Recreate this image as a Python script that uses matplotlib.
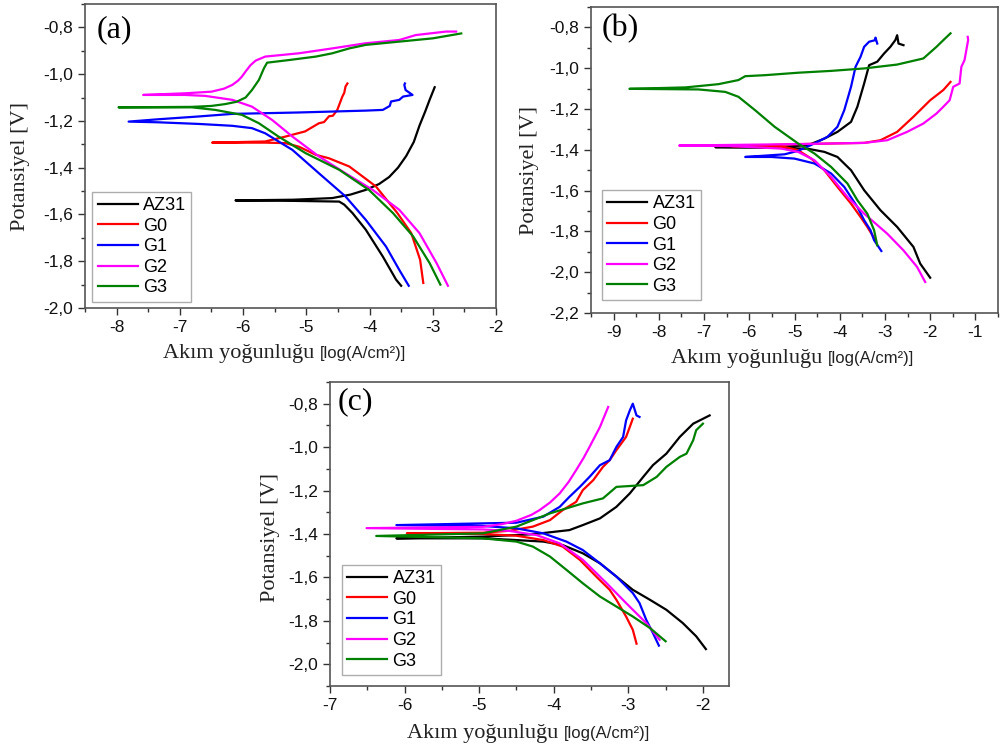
import matplotlib
matplotlib.use('Agg')
import matplotlib.pyplot as plt
from matplotlib.ticker import MultipleLocator, FuncFormatter, AutoMinorLocator

# Veriler: (log i, E) - katodik uçtan başlayıp Ecorr üzerinden anodik uca
series_names = ['AZ31', 'G0', 'G1', 'G2', 'G3']
series_colors = ['#000000', '#ff0000', '#0000ff', '#ff00ff', '#008000']

# Panel (a)
a_az31 = [(-3.50, -1.905), (-3.58, -1.879), (-3.79, -1.78), (-4.06, -1.665), (-4.27, -1.594),
          (-4.40, -1.558), (-4.48, -1.545), (-5.2, -1.542), (-6.12, -1.54), (-5.2, -1.537),
          (-4.59, -1.53), (-4.30, -1.515), (-4.06, -1.495), (-3.85, -1.47), (-3.69, -1.44),
          (-3.55, -1.40), (-3.42, -1.35), (-3.30, -1.29), (-3.21, -1.22), (-3.12, -1.16),
          (-3.05, -1.11), (-2.97, -1.056)]
a_g0 = [(-3.15, -1.893), (-3.20, -1.794), (-3.34, -1.68), (-3.56, -1.594), (-3.90, -1.48),
        (-4.32, -1.395), (-4.64, -1.36), (-4.85, -1.345), (-5.12, -1.31), (-5.33, -1.295),
        (-5.65, -1.293), (-6.49, -1.293), (-5.65, -1.288), (-5.33, -1.267), (-5.02, -1.245),
        (-4.80, -1.21), (-4.72, -1.205), (-4.64, -1.18), (-4.58, -1.178), (-4.51, -1.153),
        (-4.43, -1.096), (-4.40, -1.08), (-4.38, -1.053), (-4.35, -1.04)]
a_g1 = [(-3.38, -1.905), (-3.53, -1.837), (-3.74, -1.737), (-4.06, -1.623), (-4.38, -1.523),
        (-4.80, -1.424), (-5.22, -1.324), (-5.65, -1.253), (-5.86, -1.231), (-6.17, -1.221),
        (-6.70, -1.213), (-7.34, -1.206), (-7.81, -1.203), (-7.34, -1.193), (-6.70, -1.181),
        (-6.17, -1.170), (-5.12, -1.164), (-4.06, -1.156), (-3.79, -1.153), (-3.68, -1.136),
        (-3.66, -1.117), (-3.53, -1.11), (-3.47, -1.096), (-3.32, -1.089), (-3.43, -1.068),
        (-3.45, -1.046), (-3.44, -1.04)]
a_g2 = [(-2.76, -1.905), (-2.94, -1.808), (-3.21, -1.68), (-3.53, -1.58), (-3.95, -1.495),
        (-4.38, -1.424), (-4.80, -1.352), (-5.22, -1.267), (-5.54, -1.196), (-5.86, -1.139),
        (-6.17, -1.11), (-6.60, -1.093), (-6.92, -1.089), (-7.58, -1.089), (-6.92, -1.082),
        (-6.50, -1.075), (-6.30, -1.062), (-6.17, -1.046), (-6.08, -1.028), (-6.02, -1.011),
        (-5.95, -0.985), (-5.88, -0.961), (-5.80, -0.942), (-5.65, -0.925), (-5.12, -0.911),
        (-4.59, -0.890), (-4.06, -0.868), (-3.53, -0.854), (-3.27, -0.833), (-2.79, -0.818),
        (-2.63, -0.818)]
a_g3 = [(-2.88, -1.900), (-3.05, -1.808), (-3.31, -1.694), (-3.63, -1.594), (-4.01, -1.495),
        (-4.48, -1.409), (-5.01, -1.338), (-5.44, -1.267), (-5.75, -1.210), (-6.02, -1.174),
        (-6.44, -1.153), (-6.81, -1.142), (-7.97, -1.142), (-6.81, -1.140), (-6.50, -1.136),
        (-6.28, -1.128), (-6.10, -1.118), (-5.96, -1.10), (-5.86, -1.068), (-5.75, -1.025),
        (-5.67, -0.975), (-5.62, -0.951), (-5.28, -0.940), (-4.85, -0.925), (-4.59, -0.911),
        (-4.32, -0.890), (-4.06, -0.875), (-3.53, -0.861), (-3.00, -0.847), (-2.55, -0.826)]

# Panel (b)
b_az31 = [(-2.00, -2.027), (-2.22, -1.958), (-2.37, -1.876), (-2.73, -1.778), (-3.10, -1.696),
          (-3.46, -1.598), (-3.75, -1.50), (-4.05, -1.435), (-4.34, -1.41), (-4.70, -1.395),
          (-5.29, -1.39), (-6.75, -1.387), (-5.29, -1.386), (-4.70, -1.377), (-4.34, -1.345),
          (-4.05, -1.312), (-3.75, -1.263), (-3.61, -1.189), (-3.46, -1.075), (-3.35, -0.985),
          (-3.17, -0.968), (-3.02, -0.928), (-2.88, -0.895), (-2.77, -0.862), (-2.73, -0.838),
          (-2.70, -0.879), (-2.59, -0.887)]
b_g0 = [(-3.21, -1.843), (-3.39, -1.778), (-3.54, -1.729), (-3.75, -1.664), (-4.05, -1.582),
        (-4.34, -1.50), (-4.63, -1.443), (-4.92, -1.402), (-5.22, -1.386), (-6.38, -1.383),
        (-4.92, -1.372), (-3.46, -1.366), (-3.10, -1.353), (-2.73, -1.312), (-2.37, -1.238),
        (-2.00, -1.157), (-1.71, -1.107), (-1.55, -1.067)]
b_g1 = [(-3.08, -1.896), (-3.24, -1.843), (-3.32, -1.794), (-3.46, -1.745), (-3.61, -1.68),
        (-3.90, -1.582), (-4.19, -1.516), (-4.56, -1.467), (-5.00, -1.443), (-5.51, -1.435),
        (-6.09, -1.435), (-5.22, -1.422), (-4.92, -1.405), (-4.56, -1.369), (-4.27, -1.336),
        (-4.05, -1.287), (-3.90, -1.206), (-3.75, -1.091), (-3.65, -0.993), (-3.54, -0.944),
        (-3.46, -0.895), (-3.35, -0.870), (-3.21, -0.862), (-3.21, -0.850), (-3.17, -0.879)]
b_g2 = [(-2.11, -2.048), (-2.29, -1.974), (-2.59, -1.893), (-2.95, -1.811), (-3.46, -1.713),
        (-3.83, -1.631), (-4.19, -1.533), (-4.56, -1.451), (-4.92, -1.41), (-5.29, -1.394),
        (-6.38, -1.382), (-7.55, -1.379), (-4.92, -1.372), (-3.46, -1.366), (-2.95, -1.353),
        (-2.51, -1.312), (-2.15, -1.271), (-1.86, -1.222), (-1.71, -1.189), (-1.57, -1.157),
        (-1.49, -1.091), (-1.35, -1.075), (-1.31, -0.993), (-1.24, -0.96), (-1.20, -0.911),
        (-1.16, -0.862), (-1.17, -0.846)]
b_g3 = [(-3.17, -1.868), (-3.24, -1.794), (-3.39, -1.713), (-3.61, -1.647), (-3.83, -1.565),
        (-4.19, -1.484), (-4.56, -1.418), (-4.92, -1.369), (-5.44, -1.287), (-5.87, -1.206),
        (-6.24, -1.14), (-6.53, -1.116), (-7.12, -1.104), (-8.65, -1.101), (-7.41, -1.094),
        (-6.68, -1.078), (-6.24, -1.058), (-6.09, -1.039), (-5.65, -1.034), (-4.92, -1.022),
        (-4.19, -1.013), (-3.46, -1.001), (-2.73, -0.982), (-2.15, -0.952), (-1.86, -0.895),
        (-1.67, -0.854), (-1.55, -0.829)]

# Panel (c)
c_az31 = [(-1.96, -1.930), (-2.09, -1.871), (-2.27, -1.810), (-2.49, -1.749), (-2.71, -1.703),
          (-2.94, -1.657), (-3.16, -1.596), (-3.38, -1.535), (-3.61, -1.489), (-3.88, -1.451),
          (-4.14, -1.435), (-4.50, -1.428), (-4.95, -1.420), (-6.11, -1.420), (-4.95, -1.412),
          (-4.28, -1.401), (-3.79, -1.382), (-3.61, -1.359), (-3.38, -1.328), (-3.16, -1.275),
          (-2.98, -1.213), (-2.80, -1.137), (-2.67, -1.083), (-2.49, -1.030), (-2.31, -0.953),
          (-2.13, -0.892), (-1.91, -0.854)]
c_g0 = [(-2.89, -1.905), (-2.94, -1.841), (-3.03, -1.780), (-3.16, -1.703), (-3.25, -1.657),
        (-3.43, -1.596), (-3.65, -1.519), (-3.88, -1.458), (-4.14, -1.428), (-4.50, -1.408),
        (-4.95, -1.400), (-5.97, -1.397), (-4.95, -1.394), (-4.59, -1.385), (-4.28, -1.366),
        (-4.05, -1.336), (-3.88, -1.290), (-3.70, -1.252), (-3.61, -1.198), (-3.47, -1.152),
        (-3.34, -1.091), (-3.25, -1.060), (-3.16, -1.014), (-3.03, -0.953), (-2.98, -0.907),
        (-2.94, -0.869)]
c_g1 = [(-2.59, -1.914), (-2.67, -1.856), (-2.76, -1.795), (-2.85, -1.718), (-2.94, -1.672),
        (-3.16, -1.596), (-3.38, -1.535), (-3.61, -1.474), (-3.83, -1.435), (-4.14, -1.397),
        (-4.50, -1.374), (-4.95, -1.363), (-6.11, -1.359), (-4.50, -1.348), (-4.14, -1.320),
        (-3.92, -1.275), (-3.79, -1.229), (-3.65, -1.183), (-3.52, -1.137), (-3.38, -1.083),
        (-3.25, -1.060), (-3.16, -0.999), (-3.07, -0.953), (-3.03, -0.877), (-2.98, -0.831),
        (-2.94, -0.800), (-2.89, -0.854), (-2.85, -0.861)]
c_g2 = [(-2.58, -1.887), (-2.76, -1.810), (-3.03, -1.718), (-3.29, -1.627), (-3.61, -1.519),
        (-3.92, -1.443), (-4.23, -1.405), (-4.59, -1.386), (-4.95, -1.379), (-6.51, -1.373),
        (-4.95, -1.367), (-4.70, -1.355), (-4.50, -1.339), (-4.30, -1.312), (-4.19, -1.290),
        (-4.05, -1.255), (-3.92, -1.213), (-3.80, -1.16), (-3.70, -1.106), (-3.60, -1.05),
        (-3.52, -0.999), (-3.38, -0.907), (-3.27, -0.815)]
c_g3 = [(-2.50, -1.894), (-2.71, -1.833), (-2.94, -1.780), (-3.16, -1.734), (-3.38, -1.688),
        (-3.61, -1.627), (-3.83, -1.565), (-4.05, -1.504), (-4.28, -1.458), (-4.50, -1.435),
        (-4.95, -1.420), (-6.38, -1.409), (-4.95, -1.397), (-4.50, -1.366), (-4.05, -1.305),
        (-3.61, -1.259), (-3.34, -1.236), (-3.16, -1.183), (-2.80, -1.175), (-2.62, -1.137),
        (-2.49, -1.091), (-2.31, -1.045), (-2.22, -1.030), (-2.13, -0.968), (-2.09, -0.922),
        (-2.00, -0.892)]

panels = [
    ('(a)', [a_az31, a_g0, a_g1, a_g2, a_g3], [0.085, 0.5888, 0.411, 0.4059], (-8.5, -2), (-2.0, -0.7),
     (0.029, 0.914), (0.018, 0.02), 0.572, -0.166, (-0.158, 0.464)),
    ('(b)', [b_az31, b_g0, b_g1, b_g2, b_g3], [0.591, 0.5821, 0.407, 0.4085], (-9.5, -0.5), (-2.2, -0.7),
     (0.027, 0.931), (0.027, 0.042), 0.582, -0.162, (-0.15, 0.467)),
    ('(c)', [c_az31, c_g0, c_g1, c_g2, c_g3], [0.330, 0.0841, 0.399, 0.4059], (-7, -1.65), (-2.1, -0.7),
     (0.018, 0.934), (0.030, 0.036), 0.586, -0.171, (-0.15, 0.49)),
]

fig = plt.figure(figsize=(10, 7.49), dpi=100)
comma = FuncFormatter(lambda v, p: f'{v:.1f}'.replace('.', ','))
intfmt = FuncFormatter(lambda v, p: f'{v:.0f}')

for tag, curves, rect, xl, yl, tagpos, legpos, split, xly, ylpos in panels:
    ax = fig.add_axes(rect)
    for pts, name, col in zip(curves, series_names, series_colors):
        xs = [p[0] for p in pts]
        ys = [p[1] for p in pts]
        ax.plot(xs, ys, color=col, lw=1.6, label=name)
    ax.set_xlim(*xl)
    ax.set_ylim(*yl)
    ax.xaxis.set_major_locator(MultipleLocator(1))
    ax.xaxis.set_minor_locator(AutoMinorLocator(2))
    ax.yaxis.set_major_locator(MultipleLocator(0.2))
    ax.yaxis.set_minor_locator(AutoMinorLocator(2))
    ax.yaxis.set_major_formatter(comma)
    ax.xaxis.set_major_formatter(intfmt)
    ax.tick_params(which='major', direction='out', length=5, width=1, labelsize=12.5,
                   top=False, right=False, colors='#333333', labelcolor='#111111')
    ax.tick_params(which='minor', direction='out', length=3, width=1, top=False, right=False,
                   colors='#333333')
    for lab in ax.get_xticklabels() + ax.get_yticklabels():
        lab.set_family('Liberation Sans')
    for s in ax.spines.values():
        s.set_color('#555555')
        s.set_linewidth(1.2)
    ax.text(tagpos[0], tagpos[1], tag, transform=ax.transAxes, ha='left', va='center',
            family='Liberation Serif', fontsize=23)
    leg = ax.legend(loc='lower left', bbox_to_anchor=legpos, prop={'family': 'Liberation Sans', 'size': 13},
                    frameon=True, fancybox=False, edgecolor='#999999', handlelength=2.2,
                    handletextpad=0.3, labelspacing=0.2, borderpad=0.3, borderaxespad=0)
    leg.get_frame().set_linewidth(1.0)
    ax.text(split, xly, 'Akım yoğunluğu ', transform=ax.transAxes, ha='right', va='baseline',
            family='Liberation Serif', fontsize=16, color='#222222')
    ax.text(split, xly, '[log(A/cm²)]', transform=ax.transAxes, ha='left', va='baseline',
            family='Liberation Sans', fontsize=12, color='#222222')
    ax.text(ylpos[0], ylpos[1], 'Potansiyel [V]', transform=ax.transAxes, rotation=90,
            ha='center', va='center', family='Liberation Serif', fontsize=16, color='#222222')

fig.savefig('out.png', dpi=100)
